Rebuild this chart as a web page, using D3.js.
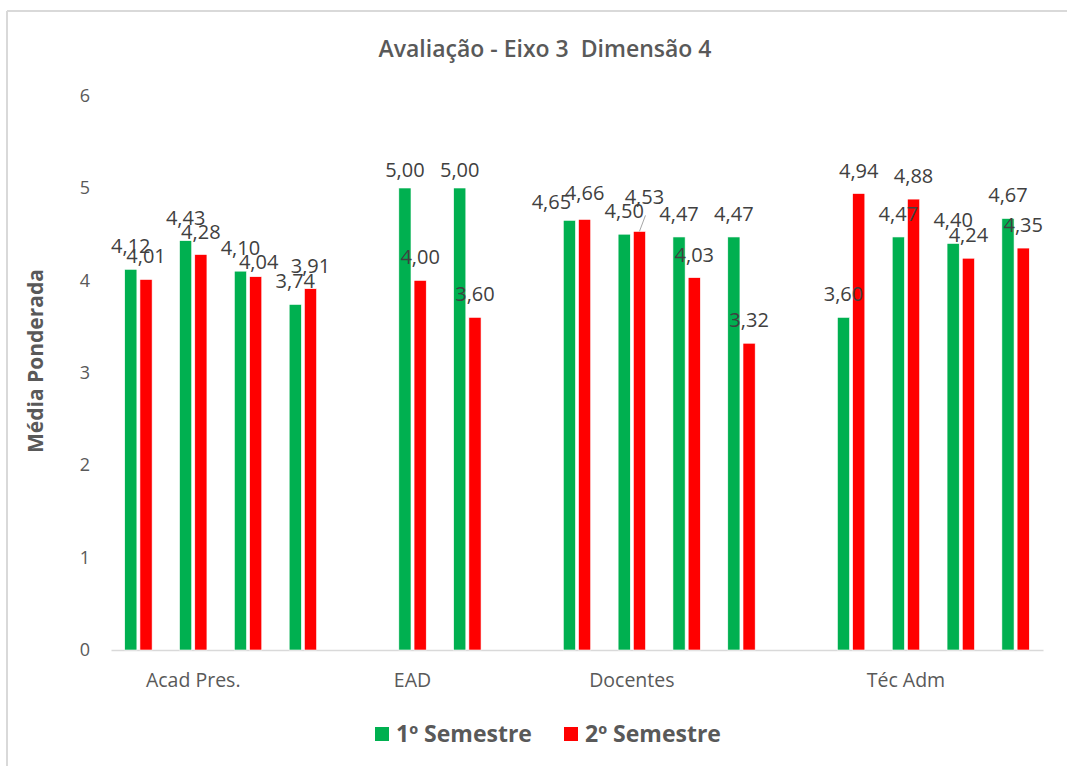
<!DOCTYPE html>
<html>
<head>
<meta charset="utf-8">
<script src="https://cdn.jsdelivr.net/npm/d3@7"></script>
<style>
  html, body { margin: 0; padding: 0; background: #fff; }
  svg { display: block; }
  text { font-family: "Open Sans", "Noto Sans", sans-serif; white-space: pre; }
</style>
</head>
<body>
<svg id="chart" width="1067" height="766"></svg>
<script>
// ---- Data ----
const title = "Avaliação - Eixo 3  Dimensão 4";
const yTitle = "Média Ponderada";
const seriesNames = ["1º Semestre", "2º Semestre"];
// 17 category slots (blank slots separate the groups); group name shown on one slot
const categories = ["", "Acad Pres.", "", "", "", "EAD", "", "", "", "Docentes", "", "", "", "", "Téc Adm", "", ""];
const sem1 = [4.12, 4.43, 4.10, 3.74, null, 5.00, 5.00, null, 4.65, 4.50, 4.47, 4.47, null, 3.60, 4.47, 4.40, 4.67];
const sem2 = [4.01, 4.28, 4.04, 3.91, null, 4.00, 3.60, null, 4.66, 4.53, 4.03, 3.32, null, 4.94, 4.88, 4.24, 4.35];
const yTicks = [0, 1, 2, 3, 4, 5, 6];

// label nudges (manual label moves in the original): [series, slot, dx, dy]
const labelNudges = [[1, 2, 3, 8], [0, 5, 0, 5], [0, 6, 0, 5], [0, 8, -18, 5], [1, 8, 0, -3], [1, 9, 5, -11]];

const colors = ["#00B050", "#FF0000"];

// ---- Layout ----
const svg = d3.select("#chart");
const W = 1067, H = 766;
const plot = { left: 111, right: 1043, top: 95.6, bottom: 650 };

// border (left and top only visible)
svg.append("line").attr("x1", 7).attr("x2", 7).attr("y1", 11).attr("y2", H)
  .attr("stroke", "#d9d9d9").attr("stroke-width", 2);
svg.append("line").attr("x1", 7).attr("x2", W).attr("y1", 11).attr("y2", 11)
  .attr("stroke", "#d9d9d9").attr("stroke-width", 2);

const slotIdx = categories.map((d, i) => i);
const x0 = d3.scaleBand().domain(slotIdx).range([plot.left, plot.right])
  .paddingInner(0.5).paddingOuter(0.25);
const x1 = d3.scaleBand().domain([0, 1]).range([0, x0.bandwidth()]).paddingInner(0.2);
const y = d3.scaleLinear().domain([0, 6]).range([plot.bottom, plot.top]);

// title
svg.append("text").attr("x", 545).attr("y", 57).attr("text-anchor", "middle")
  .attr("font-size", 23).attr("font-weight", 600).attr("fill", "#595959").text(title);

// y axis title
svg.append("text").attr("transform", "translate(43,361) rotate(-90)")
  .attr("text-anchor", "middle").attr("font-size", 21).attr("font-weight", 700)
  .attr("fill", "#595959").text(yTitle);

// y axis (labels only)
const yAxis = svg.append("g").attr("transform", `translate(${plot.left},0)`)
  .call(d3.axisLeft(y).tickValues(yTicks).tickSize(0).tickPadding(21).tickFormat(d3.format("d")));
yAxis.select(".domain").remove();
yAxis.selectAll("text").attr("font-size", 18).attr("fill", "#595959")
  .attr("font-family", "'Open Sans', sans-serif");

// x axis
const xAxis = svg.append("g").attr("transform", `translate(0,${plot.bottom})`)
  .call(d3.axisBottom(x0).tickSize(0).tickPadding(23).tickFormat(i => categories[i]));
xAxis.select(".domain").attr("stroke", "#d9d9d9").attr("stroke-width", 1.5);
xAxis.selectAll("text").attr("font-size", 19.5).attr("fill", "#595959")
  .attr("font-family", "'Open Sans', sans-serif");

// bars
const series = [sem1, sem2];
const barData = [];
series.forEach((vals, s) => vals.forEach((v, i) => { if (v != null) barData.push({ s, i, v }); }));

svg.append("g").selectAll("rect").data(barData).join("rect")
  .attr("x", d => x0(d.i) + x1(d.s))
  .attr("width", x1.bandwidth())
  .attr("y", d => y(d.v))
  .attr("height", d => y(0) - y(d.v))
  .attr("fill", d => colors[d.s])
  .attr("stroke", "#fff").attr("stroke-width", 0.6);

// data labels
const fmt = v => v.toFixed(2).replace(".", ",");
const nudge = (s, i) => labelNudges.find(n => n[0] === s && n[1] === i) || [s, i, 0, 0];

// leader line for moved label
labelNudges.filter(n => n[3] < -8).forEach(n => {
  const v = series[n[0]][n[1]];
  const cx = x0(n[1]) + x1(n[0]) + x1.bandwidth() / 2;
  svg.append("line").attr("x1", cx).attr("y1", y(v))
    .attr("x2", cx + n[2] + 1).attr("y2", y(v) - 16)
    .attr("stroke", "#a6a6a6").attr("stroke-width", 1);
});

svg.append("g").selectAll("text").data(barData).join("text")
  .attr("x", d => x0(d.i) + x1(d.s) + x1.bandwidth() / 2 + nudge(d.s, d.i)[2])
  .attr("y", d => y(d.v) - 16 + nudge(d.s, d.i)[3])
  .attr("text-anchor", "middle").attr("font-size", 20).attr("fill", "#404040")
  .text(d => fmt(d.v));

// legend
const legend = svg.append("g");
const legX = [375, 564];
seriesNames.forEach((name, s) => {
  legend.append("rect").attr("x", legX[s]).attr("y", 727).attr("width", 14).attr("height", 14)
    .attr("fill", colors[s]);
  legend.append("text").attr("x", legX[s] + 21).attr("y", 742)
    .attr("font-size", 23).attr("font-weight", 700).attr("fill", "#595959").text(name);
});
</script>
</body>
</html>
